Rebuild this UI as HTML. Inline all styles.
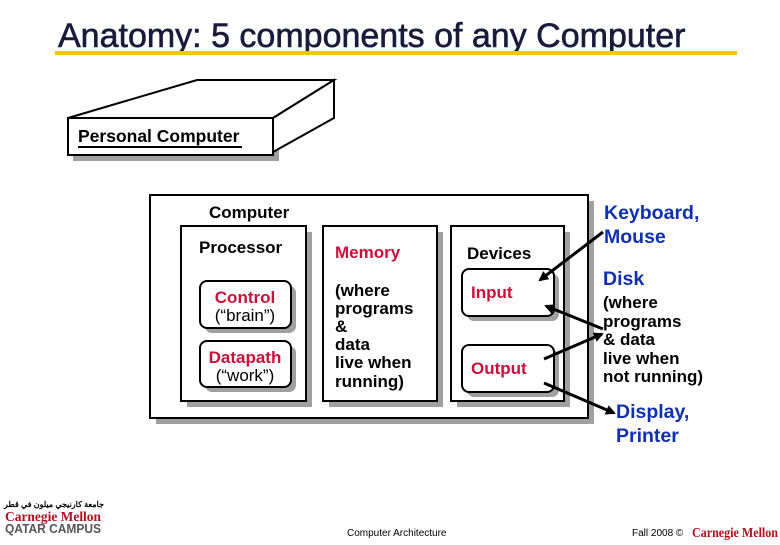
<!DOCTYPE html>
<html><head><meta charset="utf-8"><style>
body{margin:0;background:#fff;}
svg text{font-family:"Liberation Sans",Arial,sans-serif;}
</style></head><body>
<svg width="780" height="540" viewBox="0 0 780 540" xmlns="http://www.w3.org/2000/svg">
<defs><marker id="ah" markerWidth="10" markerHeight="10" refX="8" refY="5" orient="auto" markerUnits="userSpaceOnUse"><path d="M0,0 L10,5 L0,10 z" fill="#000"/></marker></defs>
<rect width="780" height="540" fill="#fff"/>
<text x="58" y="47" font-size="34" fill="#1a1a3a" stroke="#1a1a3a" stroke-width="0.6">Anatomy: 5 components of any Computer</text>
<rect x="55" y="51" width="682" height="4" fill="#f0c800"/>
<!-- PC box -->
<rect x="73" y="123" width="206" height="38" fill="#a0a0a0"/>
<polygon points="68,118 197,80 334,80 273,118" fill="#fff" stroke="#000" stroke-width="2"/>
<polygon points="273,118 334,80 334,118 273,152" fill="#fff" stroke="#000" stroke-width="2"/>
<rect x="68" y="118" width="205" height="37" fill="#fff" stroke="#000" stroke-width="2"/>
<text x="78" y="142" font-size="17.5" font-weight="bold">Personal Computer</text>
<rect x="78" y="146" width="164" height="2" fill="#000"/>
<!-- Computer -->
<rect x="156" y="201" width="438" height="223" fill="#a0a0a0"/>
<rect x="150" y="195" width="438" height="223" fill="#fff" stroke="#000" stroke-width="2"/>
<text x="209" y="218" font-size="17" font-weight="bold">Computer</text>
<rect x="187" y="232" width="125" height="175" fill="#a0a0a0"/>
<rect x="181" y="226" width="125" height="175" fill="#fff" stroke="#000" stroke-width="2"/>
<text x="199" y="253" font-size="17" font-weight="bold">Processor</text>
<rect x="205" y="286" width="91" height="47" rx="7" fill="#a0a0a0"/>
<rect x="200" y="281" width="91" height="47" rx="7" fill="#fff" stroke="#000" stroke-width="2"/>
<text x="245" y="303" font-size="17" font-weight="bold" fill="#c8103a" text-anchor="middle">Control</text>
<text x="245" y="321" font-size="17" text-anchor="middle">(“brain”)</text>
<rect x="205" y="346" width="91" height="46" rx="7" fill="#a0a0a0"/>
<rect x="200" y="341" width="91" height="46" rx="7" fill="#fff" stroke="#000" stroke-width="2"/>
<text x="245" y="363" font-size="17" font-weight="bold" fill="#c8103a" text-anchor="middle">Datapath</text>
<text x="245" y="381" font-size="17" text-anchor="middle">(“work”)</text>
<rect x="329" y="232" width="114" height="175" fill="#a0a0a0"/>
<rect x="323" y="226" width="114" height="175" fill="#fff" stroke="#000" stroke-width="2"/>
<text x="335" y="258" font-size="17" font-weight="bold" fill="#c8103a">Memory</text>
<g font-size="17" font-weight="bold"><text x="335" y="296">(where</text><text x="335" y="314">programs</text><text x="335" y="332">&amp;</text><text x="335" y="350">data</text><text x="335" y="368">live when</text><text x="335" y="387">running)</text></g>
<rect x="457" y="232" width="113" height="175" fill="#a0a0a0"/>
<rect x="451" y="226" width="113" height="175" fill="#fff" stroke="#000" stroke-width="2"/>
<text x="467" y="259" font-size="17" font-weight="bold">Devices</text>
<rect x="467" y="274" width="92" height="47" rx="7" fill="#a0a0a0"/>
<rect x="462" y="269" width="92" height="47" rx="7" fill="#fff" stroke="#000" stroke-width="2"/>
<text x="471" y="298" font-size="17" font-weight="bold" fill="#c8103a">Input</text>
<rect x="467" y="350" width="92" height="47" rx="7" fill="#a0a0a0"/>
<rect x="462" y="345" width="92" height="47" rx="7" fill="#fff" stroke="#000" stroke-width="2"/>
<text x="471" y="374" font-size="17" font-weight="bold" fill="#c8103a">Output</text>
<!-- arrows -->
<g stroke="#000" stroke-width="3" marker-end="url(#ah)">
<line x1="603" y1="232" x2="540" y2="280"/>
<line x1="603" y1="329" x2="546" y2="306"/>
<line x1="544" y1="359" x2="602" y2="334"/>
<line x1="544" y1="383" x2="614" y2="413"/>
</g>
<g font-size="19.5" font-weight="bold" fill="#1030b0">
<text x="604" y="219">Keyboard,</text><text x="604" y="243">Mouse</text>
<text x="603" y="285">Disk</text>
<text x="616" y="418">Display,</text><text x="616" y="442">Printer</text>
</g>
<g font-size="17" font-weight="bold">
<text x="603" y="308">(where</text><text x="603" y="327">programs</text><text x="603" y="345">&amp; data</text><text x="603" y="364">live when</text><text x="603" y="382">not running)</text>
</g>
<!-- footer -->
<text x="4" y="507" font-size="8" font-weight="bold">جامعة كارنيجي ميلون في قطر</text>
<text x="5" y="521" font-size="14" font-weight="bold" fill="#b01020" style="font-family:'Liberation Serif',serif" textLength="96" lengthAdjust="spacingAndGlyphs">Carnegie Mellon</text>
<text x="5" y="533" font-size="13" font-weight="bold" fill="#555" textLength="96" lengthAdjust="spacingAndGlyphs">QATAR CAMPUS</text>
<text x="347" y="536" font-size="10">Computer Architecture</text>
<text x="632" y="536" font-size="10">Fall 2008 ©</text>
<text x="692" y="537" font-size="14" font-weight="bold" fill="#b01020" style="font-family:'Liberation Serif',serif" textLength="86" lengthAdjust="spacingAndGlyphs">Carnegie Mellon</text>
</svg>
</body></html>
